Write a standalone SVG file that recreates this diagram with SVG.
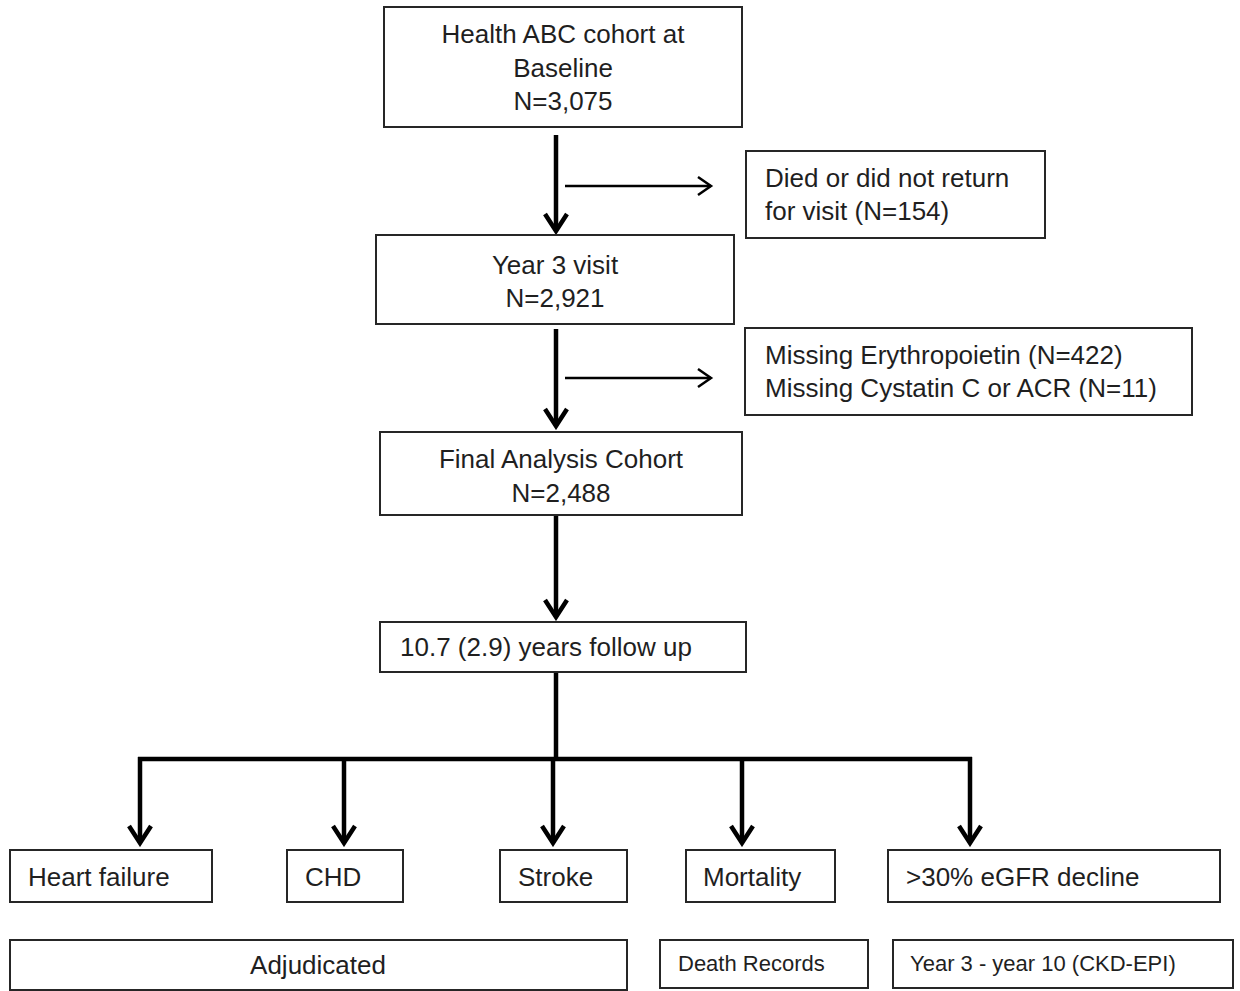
<svg xmlns="http://www.w3.org/2000/svg" width="1240" height="991" viewBox="0 0 1240 991">
<style>
.box{fill:#fff;stroke:#262626;stroke-width:2}
.t{font-family:"Liberation Sans",Arial,sans-serif;font-size:26px;fill:#1f1f1f}
.s{font-family:"Liberation Sans",Arial,sans-serif;font-size:22px;fill:#1f1f1f}
.c{text-anchor:middle}
.main{stroke:#000;stroke-width:4.5;fill:none}
.side{stroke:#000;stroke-width:2.5;fill:none}
</style>
<defs>
<marker id="bigArrow" markerUnits="userSpaceOnUse" viewBox="-20 -14 24 28" refX="0" refY="0" markerWidth="24" markerHeight="28" orient="auto">
<path d="M-17,-11 L0,0 L-17,11" fill="none" stroke="#000" stroke-width="4.5"/>
</marker>
<marker id="smallArrow" markerUnits="userSpaceOnUse" viewBox="-16 -11 19 22" refX="0" refY="0" markerWidth="19" markerHeight="22" orient="auto">
<path d="M-13,-9 L0,0 L-13,9" fill="none" stroke="#000" stroke-width="2.5"/>
</marker>
</defs>

<g id="connectors">
<line class="main" x1="556" y1="135" x2="556" y2="231" marker-end="url(#bigArrow)"/>
<line class="side" x1="565" y1="186" x2="711" y2="186" marker-end="url(#smallArrow)"/>
<line class="main" x1="556" y1="329" x2="556" y2="426" marker-end="url(#bigArrow)"/>
<line class="side" x1="565" y1="378" x2="711" y2="378" marker-end="url(#smallArrow)"/>
<line class="main" x1="556" y1="516" x2="556" y2="617" marker-end="url(#bigArrow)"/>
<line class="main" x1="556" y1="672" x2="556" y2="759"/>
<line class="main" x1="138" y1="759" x2="972" y2="759"/>
<line class="main" x1="140" y1="757" x2="140" y2="843" marker-end="url(#bigArrow)"/>
<line class="main" x1="344" y1="759" x2="344" y2="843" marker-end="url(#bigArrow)"/>
<line class="main" x1="553" y1="759" x2="553" y2="843" marker-end="url(#bigArrow)"/>
<line class="main" x1="742" y1="759" x2="742" y2="843" marker-end="url(#bigArrow)"/>
<line class="main" x1="970" y1="757" x2="970" y2="843" marker-end="url(#bigArrow)"/>
</g>

<g id="baseline">
<rect class="box" x="384" y="7" width="358" height="120"/>
<text class="t c" x="563" y="43">Health ABC cohort at</text>
<text class="t c" x="563" y="77">Baseline</text>
<text class="t c" x="563" y="110">N=3,075</text>
</g>

<g id="died">
<rect class="box" x="746" y="151" width="299" height="87"/>
<text class="t" x="765" y="187">Died or did not return</text>
<text class="t" x="765" y="220">for visit (N=154)</text>
</g>

<g id="year3">
<rect class="box" x="376" y="235" width="358" height="89"/>
<text class="t c" x="555" y="274">Year 3 visit</text>
<text class="t c" x="555" y="307">N=2,921</text>
</g>

<g id="missing">
<rect class="box" x="745" y="328" width="447" height="87"/>
<text class="t" x="765" y="364">Missing Erythropoietin (N=422)</text>
<text class="t" x="765" y="397">Missing Cystatin C or ACR (N=11)</text>
</g>

<g id="final">
<rect class="box" x="380" y="432" width="362" height="83"/>
<text class="t c" x="561" y="468">Final Analysis Cohort</text>
<text class="t c" x="561" y="502">N=2,488</text>
</g>

<g id="followup">
<rect class="box" x="380" y="622" width="366" height="50"/>
<text class="t" x="400" y="656">10.7 (2.9) years follow up</text>
</g>

<g id="heartfailure">
<rect class="box" x="10" y="850" width="202" height="52"/>
<text class="t" x="28" y="886">Heart failure</text>
</g>

<g id="chd">
<rect class="box" x="287" y="850" width="116" height="52"/>
<text class="t" x="305" y="886">CHD</text>
</g>

<g id="stroke">
<rect class="box" x="500" y="850" width="127" height="52"/>
<text class="t" x="518" y="886">Stroke</text>
</g>

<g id="mortality">
<rect class="box" x="686" y="850" width="149" height="52"/>
<text class="t" x="703" y="886">Mortality</text>
</g>

<g id="egfr">
<rect class="box" x="888" y="850" width="332" height="52"/>
<text class="t" x="906" y="886">&gt;30% eGFR decline</text>
</g>

<g id="adjudicated">
<rect class="box" x="10" y="940" width="617" height="50"/>
<text class="t c" x="318" y="974">Adjudicated</text>
</g>

<g id="deathrecords">
<rect class="box" x="660" y="940" width="208" height="48"/>
<text class="s" x="678" y="971">Death Records</text>
</g>

<g id="ckdepi">
<rect class="box" x="893" y="940" width="340" height="48"/>
<text class="s" x="910" y="971">Year 3 - year 10 (CKD-EPI)</text>
</g>
</svg>
